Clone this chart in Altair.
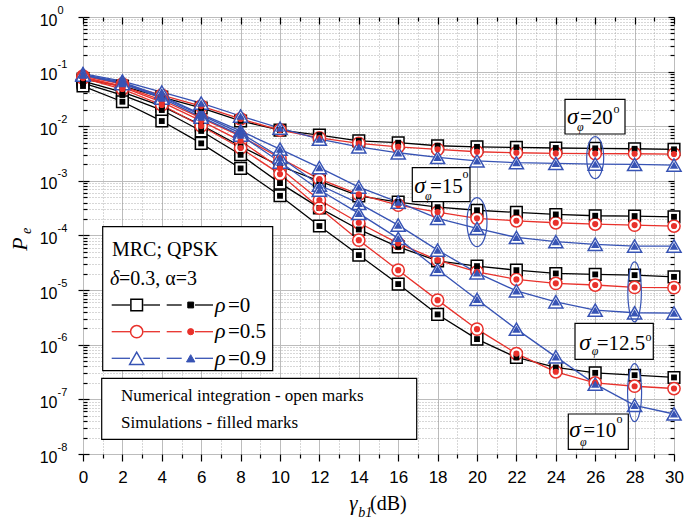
import altair as alt
import pandas as pd

# ---------------- data ----------------
snr_db = [0, 2, 4, 6, 8, 10, 12, 14, 16, 18, 20, 22, 24, 26, 28, 30]

# sigma_phi = 20 deg
pe_s20_r0 = [0.073, 0.0545, 0.0343, 0.0216, 0.0125, 0.0085, 0.0069, 0.0054, 0.0050, 0.0044, 0.0042, 0.0041, 0.0040, 0.00394, 0.00387, 0.00378]
pe_s20_r05 = [0.083, 0.0593, 0.0373, 0.0234, 0.0136, 0.0085, 0.0061, 0.00486, 0.00421, 0.00378, 0.00341, 0.00327, 0.00318, 0.00316, 0.00314, 0.0031]
pe_s20_r09 = [0.092, 0.0673, 0.0423, 0.0266, 0.0154, 0.0092, 0.0058, 0.0042, 0.00327, 0.00269, 0.00233, 0.00215, 0.00209, 0.00203, 0.0020, 0.00195]
# sigma_phi = 15 deg
pe_s15_r0 = [0.067, 0.0423, 0.0234, 0.0105, 0.0043, 0.00187, 0.00099, 5.3e-4, 4.1e-4, 3.3e-4, 2.9e-4, 2.65e-4, 2.43e-4, 2.3e-4, 2.27e-4, 2.2e-4]
pe_s15_r05 = [0.0796, 0.0545, 0.0302, 0.0141, 0.0066, 0.00262, 0.00108, 5.66e-4, 3.6e-4, 2.68e-4, 2.06e-4, 1.86e-4, 1.71e-4, 1.62e-4, 1.55e-4, 1.49e-4]
pe_s15_r09 = [0.088, 0.0645, 0.0357, 0.0167, 0.0082, 0.0038, 0.00175, 7.7e-4, 4.1e-4, 2.06e-4, 1.35e-4, 9.2e-5, 7.7e-5, 6.9e-5, 6.4e-5, 6.4e-5]
# sigma_phi = 12.5 deg
pe_s125_r0 = [0.0618, 0.0373, 0.0198, 0.0082, 0.0030, 9.1e-4, 3.2e-4, 1.29e-4, 6.2e-5, 3.44e-5, 2.75e-5, 2.32e-5, 2.02e-5, 1.94e-5, 1.88e-5, 1.75e-5]
pe_s125_r05 = [0.078, 0.0522, 0.0277, 0.0125, 0.0054, 0.00171, 4.45e-4, 1.71e-4, 7.2e-5, 3.54e-5, 2.16e-5, 1.57e-5, 1.33e-5, 1.24e-5, 1.12e-5, 1.11e-5]
pe_s125_r09 = [0.087, 0.0618, 0.0343, 0.016, 0.0075, 0.00273, 8.4e-4, 3.87e-4, 1.55e-4, 5.4e-5, 2.07e-5, 9.7e-6, 6.1e-6, 4.3e-6, 3.85e-6, 3.8e-6]
# sigma_phi = 10 deg
pe_s10_r0 = [0.0545, 0.0281, 0.01245, 0.00486, 0.00169, 5.33e-4, 1.49e-4, 4.38e-5, 1.29e-5, 3.59e-6, 1.27e-6, 5.85e-7, 3.84e-7, 3.06e-7, 2.77e-7, 2.52e-7]
pe_s10_r05 = [0.0763, 0.048, 0.0245, 0.0101, 0.0040, 0.00133, 3.18e-4, 8.2e-5, 2.32e-5, 6.56e-6, 1.93e-6, 6.9e-7, 3.2e-7, 2.0e-7, 1.74e-7, 1.58e-7]
pe_s10_r09 = [0.086, 0.0605, 0.0328, 0.0147, 0.0069, 0.00221, 6.8e-4, 2.54e-4, 8.85e-5, 2.39e-5, 6.76e-6, 1.93e-6, 6.0e-7, 1.9e-7, 7.8e-8, 5.4e-8]

rho_levels = ["0", "0.5", "0.9"]
rho_colors = ["#000000", "#e8312b", "#3753b4"]
rho_shapes = ["square", "circle", "triangle-up"]
open_sizes = [135, 150, 200]
fill_sizes = [34, 38, 70]

x_even = [0, 2, 4, 6, 8, 10, 12, 14, 16, 18, 20, 22, 24, 26, 28, 30]
x_odd = [1, 3, 5, 7, 9, 11, 13, 15, 17, 19, 21, 23, 25, 27, 29]
y_decades = [1e-8, 1e-7, 1e-6, 1e-5, 1e-4, 1e-3, 1e-2, 1e-1, 1.0]
y_minor = [m * 10.0 ** k for k in range(-8, 0) for m in range(2, 10)]

series = [
    ("20", "0", pe_s20_r0), ("20", "0.5", pe_s20_r05), ("20", "0.9", pe_s20_r09),
    ("15", "0", pe_s15_r0), ("15", "0.5", pe_s15_r05), ("15", "0.9", pe_s15_r09),
    ("12.5", "0", pe_s125_r0), ("12.5", "0.5", pe_s125_r05), ("12.5", "0.9", pe_s125_r09),
    ("10", "0", pe_s10_r0), ("10", "0.5", pe_s10_r05), ("10", "0.9", pe_s10_r09),
]
size_open = dict(zip(rho_levels, open_sizes))
size_fill = dict(zip(rho_levels, fill_sizes))
rows = []
for sig, rho, vals in series:
    for xv, pv in zip(snr_db, vals):
        rows.append({"x": xv, "pe": pv, "rho": rho, "sigma": sig, "curve": sig + "_" + rho,
                     "so": size_open[rho], "sf": size_fill[rho]})
df = pd.DataFrame(rows)

W, H = 591, 437
SERIF = "Liberation Serif"
SANS = "Liberation Sans"

xs = alt.Scale(domain=[0, 30], nice=False, zero=False)
ys = alt.Scale(type="log", domain=[1e-8, 1], nice=False)


def ax(**kw):
    d = dict(domain=False, grid=False, labels=False, ticks=False, title=None,
             tickColor="black", tickWidth=1.2)
    d.update(kw)
    return alt.Axis(**d)


base = alt.Chart(df)


def axis_layer(xaxis, yaxis):
    return base.mark_point(opacity=0).encode(
        x=alt.X("x:Q", scale=xs, axis=xaxis),
        y=alt.Y("pe:Q", scale=ys, axis=yaxis),
    )


GMIN = dict(grid=True, gridColor="#9a9a9a", gridDash=[1, 2], gridWidth=0.8)
GMAJ = dict(grid=True, gridColor="#bcbcbc", gridWidth=1)

axis_layers = [
    axis_layer(ax(orient="bottom", values=x_odd, **GMIN), ax(orient="left", values=y_minor, **GMIN)),
    axis_layer(ax(orient="bottom", values=x_even, **GMAJ), ax(orient="left", values=y_decades, **GMAJ)),
    axis_layer(
        ax(orient="bottom", values=x_even, ticks=True, tickSize=7, labels=True,
           labelFont=SANS, labelFontSize=17, labelColor="black", labelPadding=8,
           labelFlush=False, labelOverlap=False),
        ax(orient="left", values=y_decades, labels=True, labelExpr="'10'", labelFont=SANS,
           labelFontSize=16, labelColor="black", labelPadding=26, tickSize=0,
           labelAlign="right", labelBaseline="middle", labelOffset=3, labelOverlap=False,
           labelFlush=False),
    ),
    axis_layer(
        ax(orient="bottom", values=x_odd, ticks=True, tickSize=4),
        ax(orient="left", values=y_decades, labels=True,
           labelExpr="'' + round(log(datum.value) / LN10)", labelFont=SANS,
           labelFontSize=11, labelColor="black", labelPadding=26, tickSize=0,
           labelAlign="left", labelBaseline="middle", labelOffset=-7, labelOverlap=False,
           labelFlush=False),
    ),
    axis_layer(
        ax(orient="bottom", offset=-H, values=x_even, ticks=True, tickSize=7),
        ax(orient="left", values=y_decades, ticks=True, tickSize=5),
    ),
    axis_layer(
        ax(orient="bottom", offset=-H, values=x_odd, ticks=True, tickSize=4),
        ax(orient="right", offset=-W, values=y_decades, ticks=True, tickSize=6),
    ),
    axis_layer(None, ax(orient="right", offset=-W, values=y_minor, ticks=True, tickSize=4)),
    axis_layer(None, ax(orient="left", offset=-W, values=y_decades, ticks=True, tickSize=6)),
    axis_layer(None, ax(orient="left", offset=-W, values=y_minor, ticks=True, tickSize=4)),
]

X = alt.X("x:Q", scale=xs, axis=None)
Y = alt.Y("pe:Q", scale=ys, axis=None)
color_scale = alt.Scale(domain=rho_levels, range=rho_colors)
shape_scale = alt.Scale(domain=rho_levels, range=rho_shapes)

lines = base.mark_line(strokeWidth=1.3).encode(
    x=X, y=Y, color=alt.Color("rho:N", scale=color_scale, legend=None), detail="curve:N"
)
open_marks = base.mark_point(filled=True, fill="white", strokeWidth=1.5, opacity=1).encode(
    x=X, y=Y,
    stroke=alt.Stroke("rho:N", scale=color_scale, legend=None),
    shape=alt.Shape("rho:N", scale=shape_scale, legend=None),
    size=alt.Size("so:Q", scale=None),
)
filled_marks = base.mark_point(filled=True, opacity=1).encode(
    x=X, y=Y,
    color=alt.Color("rho:N", scale=color_scale, legend=None),
    shape=alt.Shape("rho:N", scale=shape_scale, legend=None),
    size=alt.Size("sf:Q", scale=None),
)

# ---------------- ellipses around curve groups ----------------
def ellipse_path(a):
    k = 0.5523
    return (f"M 0 -1 C {k*a:.4f} -1 {a:.4f} {-k:.4f} {a:.4f} 0 "
            f"C {a:.4f} {k:.4f} {k*a:.4f} 1 0 1 "
            f"C {-k*a:.4f} 1 {-a:.4f} {k:.4f} {-a:.4f} 0 "
            f"C {-a:.4f} {-k:.4f} {-k*a:.4f} -1 0 -1 Z")

ell_x = [26, 20, 28, 28]
ell_pe = [2.67e-3, 1.76e-4, 9.3e-6, 1.33e-7]
ell_h = [42, 49, 60, 58]
ell_w = [17, 20, 13.5, 14]
df_ell = pd.DataFrame({
    "x": ell_x, "pe": ell_pe,
    "shape": [ellipse_path(w / h) for w, h in zip(ell_w, ell_h)],
    "size": [h * h for h in ell_h],
})
ellipses = alt.Chart(df_ell).mark_point(filled=False, stroke="#3753b4", strokeWidth=1.2, opacity=1).encode(
    x=X, y=Y,
    shape=alt.Shape("shape:N", scale=None),
    size=alt.Size("size:Q", scale=None),
)

# ---------------- boxes (plot pixel coordinates) ----------------
df_box = pd.DataFrame([
    {"x0": 19.7, "x1": 189.7, "y0": 209.7, "y1": 353.7},
    {"x0": 18.7, "x1": 333.7, "y0": 361.3, "y1": 422.3},
    {"x0": 482, "x1": 542, "y0": 82.3, "y1": 117},
    {"x0": 329.3, "x1": 387, "y0": 150.7, "y1": 184.7},
    {"x0": 492, "x1": 570.3, "y0": 306.3, "y1": 342.3},
    {"x0": 485.3, "x1": 545.3, "y0": 397, "y1": 432.3},
])
boxes = alt.Chart(df_box).mark_rect(fill="white", stroke="black", strokeWidth=1.2).encode(
    x=alt.X("x0:Q", scale=None), x2="x1:Q",
    y=alt.Y("y0:Q", scale=None), y2="y1:Q",
)

# legend line segments
leg_y = [288, 314.7, 341.3]
seg = [(28.7, 47), (60.3, 77), (83.7, 98.7), (112, 130)]
leg_rows = []
for yy, c in zip(leg_y, rho_colors):
    for a, b in seg:
        leg_rows.append({"x0": a, "x1": b, "y": yy, "c": c})
leg_lines = alt.Chart(pd.DataFrame(leg_rows)).mark_rule(strokeWidth=1.3).encode(
    x=alt.X("x0:Q", scale=None), x2="x1:Q",
    y=alt.Y("y:Q", scale=None), color=alt.Color("c:N", scale=None),
)
leg_mk = []
for yy, c, s, so, sf in zip(leg_y, rho_colors, rho_shapes, open_sizes, fill_sizes):
    leg_mk.append({"x": 53.7, "y": yy, "shape": s, "size": so, "fill": "white", "stroke": c, "sw": 1.5})
    leg_mk.append({"x": 107.7, "y": yy, "shape": s, "size": sf, "fill": c, "stroke": c, "sw": 1.0})
leg_marks = alt.Chart(pd.DataFrame(leg_mk)).mark_point(filled=True, opacity=1).encode(
    x=alt.X("x:Q", scale=None), y=alt.Y("y:Q", scale=None),
    shape=alt.Shape("shape:N", scale=None), size=alt.Size("size:Q", scale=None),
    fill=alt.Fill("fill:N", scale=None), stroke=alt.Stroke("stroke:N", scale=None),
    strokeWidth=alt.StrokeWidth("sw:Q", scale=None),
)

# ---------------- texts ----------------
txt_normal = pd.DataFrame([
    ("MRC; QPSK", 29, 239, 20),
    ("=0.3, α=3", 36, 268, 20),
    ("=0", 145, 294.7, 21), ("=0.5", 145, 321.3, 21), ("=0.9", 145, 348, 21),
    ("Numerical integration - open marks", 38, 383.7, 17),
    ("Simulations - filled marks", 38, 411.3, 17),
    ("=20", 497, 106.5, 21), ("=15", 347, 176.3, 21), ("=12.5", 513.7, 333, 21), ("=10", 500.3, 419.7, 21),
    ("o", 530.5, 96, 12), ("o", 379.5, 161, 12), ("o", 562.5, 324, 12), ("o", 533.5, 406, 12),
    ("(dB)", 287, 493, 20),
], columns=["t", "x", "y", "s"])
txt_italic = pd.DataFrame([
    ("δ", 27, 268, 20),
    ("ρ", 132, 294.7, 22), ("ρ", 132, 321.3, 22), ("ρ", 132, 348, 22),
    ("σ", 484, 106.5, 23), ("σ", 331.3, 176.3, 23), ("σ", 496.3, 333, 23), ("σ", 486.3, 419.7, 23),
    ("φ", 494, 114.3, 12), ("φ", 342, 182.5, 12), ("φ", 508.7, 337.5, 12), ("φ", 497, 428.5, 12),
    ("γ", 266.3, 493, 21), ("b1", 275.3, 500, 14),
], columns=["t", "x", "y", "s"])
txt_rot = pd.DataFrame([("P", -63, 227, 22), ("e", -56, 214, 14)], columns=["t", "x", "y", "s"])


def text_layer(d, style, angle=0, align="left", baseline="alphabetic"):
    return alt.Chart(d).mark_text(font=SERIF, fontStyle=style, align=align, baseline=baseline,
                                  angle=angle, color="black").encode(
        x=alt.X("x:Q", scale=None), y=alt.Y("y:Q", scale=None),
        text="t:N", size=alt.Size("s:Q", scale=None),
    )


texts = [
    text_layer(txt_normal, "normal"),
    text_layer(txt_italic, "italic"),
    text_layer(txt_rot, "italic", angle=270, align="center", baseline="middle"),
]

chart = alt.layer(
    *axis_layers, lines, open_marks, filled_marks, ellipses, boxes, leg_lines, leg_marks, *texts
).resolve_axis(x="independent", y="independent").properties(
    width=W, height=H,
    autosize=alt.AutoSizeParams(type="none"),
    padding={"left": 83, "top": 17, "right": 10, "bottom": 68},
).configure_view(stroke="black", strokeWidth=1.6).configure(background="white")

chart.save("out.html", embed_options={"renderer": "svg", "actions": False})
